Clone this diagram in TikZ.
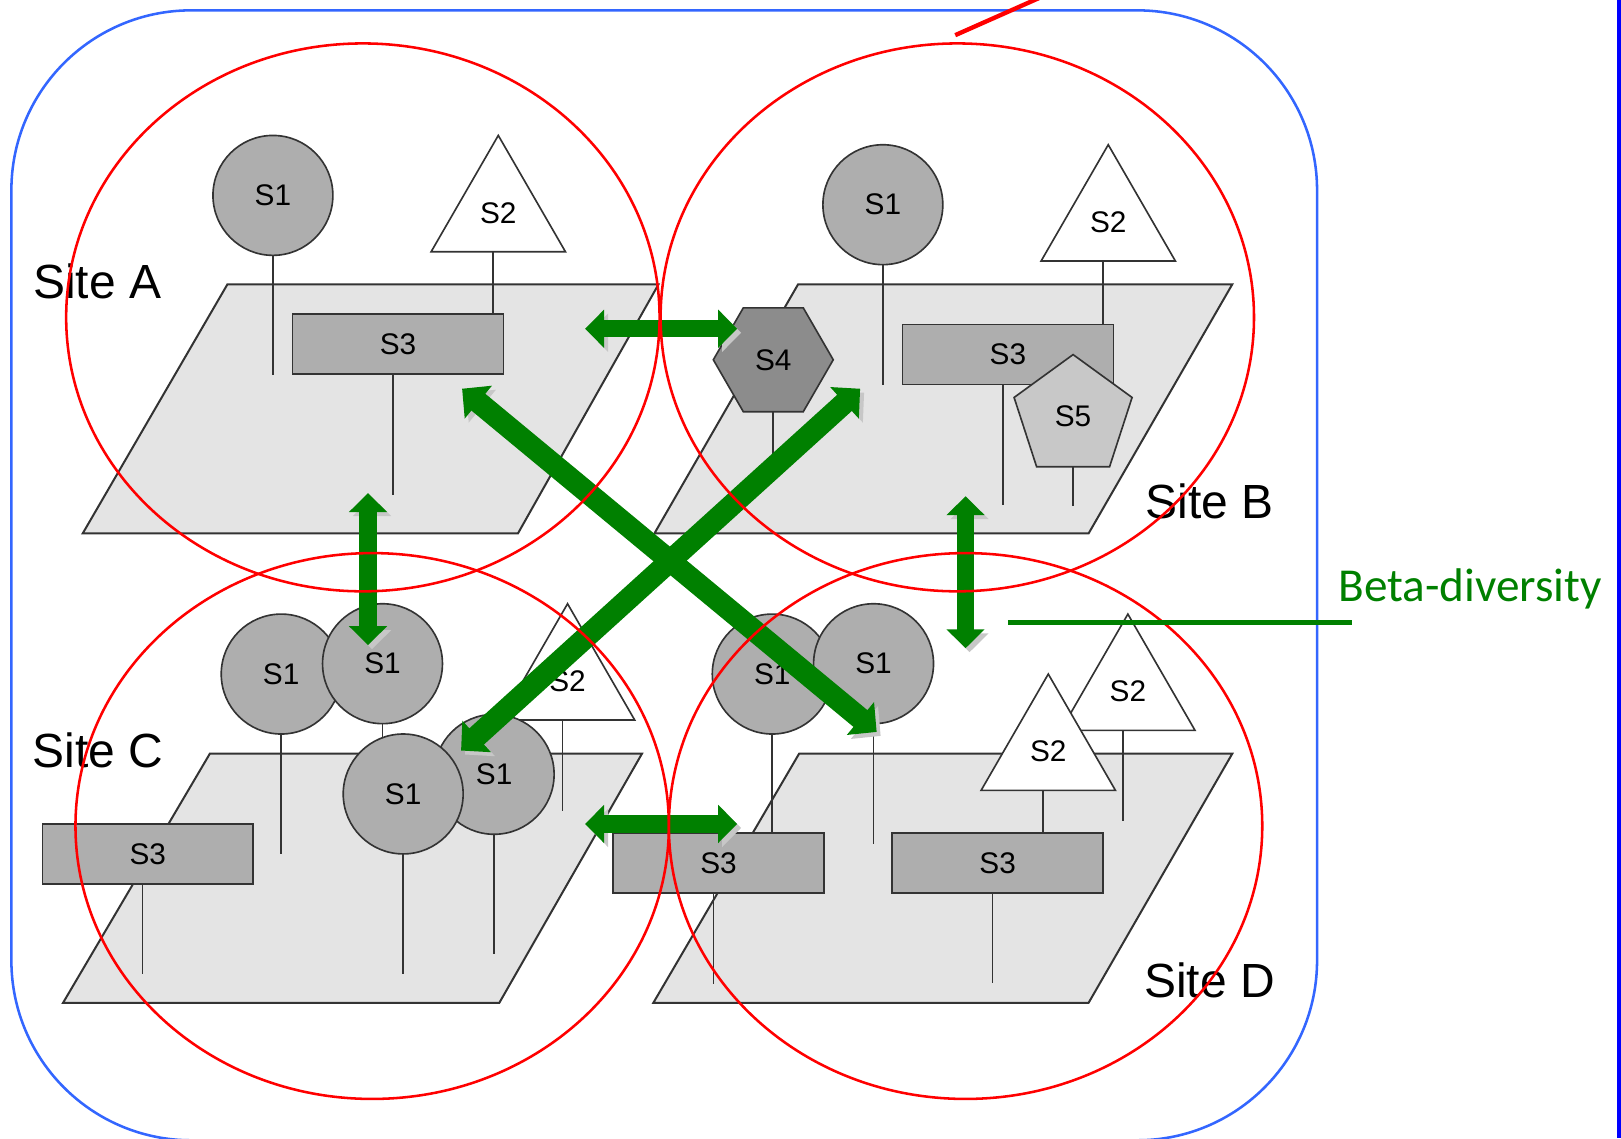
\documentclass[tikz,border=0pt]{standalone}
\usepackage{fontspec}
\setmainfont{Liberation Sans}
\newfontfamily\calibri{Carlito}
\usetikzlibrary{shapes.geometric,arrows.meta}

\definecolor{verde}{HTML}{008000}
\definecolor{blu}{HTML}{3366FF}
\definecolor{bordo}{HTML}{333333}
\definecolor{terreno}{HTML}{E4E4E4}
\definecolor{grigio}{HTML}{AEAEAE}
\definecolor{scuro}{HTML}{8C8C8C}
\definecolor{chiaro}{HTML}{C8C8C8}

\tikzset{
  specie/.style={draw=bordo, line width=0.45pt, inner sep=0pt, outer sep=0pt,
    font=\fontsize{8.2}{10}\selectfont},
  s1/.style={specie, circle, fill=grigio, minimum size=11.6mm},
  s2/.style={specie, regular polygon, regular polygon sides=3, fill=white, minimum size=15mm},
  s3/.style={specie, rectangle, fill=grigio, minimum width=20.4mm, minimum height=5.8mm},
  s4/.style={specie, regular polygon, regular polygon sides=6, fill=scuro, minimum size=11.6mm},
  s5/.style={specie, regular polygon, regular polygon sides=5, fill=chiaro, minimum size=12mm},
  gambo/.style={draw=bordo, line width=0.45pt},
  suolo/.style={draw=bordo, fill=terreno, line width=0.55pt},
  sito/.style={font=\fontsize{13.2}{16}\selectfont, inner sep=0pt},
  ombra/.style={preaction={draw=black!22, transform canvas={shift={(1.1pt,-1.1pt)}}}},
  freccia/.style={ombra, draw=verde, line width=4.8pt,
    {Triangle[width=10.2pt,length=5.2pt]}-{Triangle[width=10.2pt,length=5.2pt]}},
  diagonale/.style={ombra, draw=verde, line width=6pt,
    {Triangle[width=11.4pt,length=5.8pt]}-{Triangle[width=11.4pt,length=5.8pt]}},
  zona/.style={draw=red, line width=0.7pt}
}

\begin{document}
\begin{tikzpicture}[x=0.1mm, y=-0.1mm]
    \useasboundingbox (0,0) rectangle (1568,1101);

    % Cornice
    \draw[blu, line width=0.7pt, rounded corners=17.4mm] (11,10) rectangle (1274,1103);
    \draw[blue, line width=0.9pt] (1566,0) -- (1566,1101);

    % Sito A
    \draw[suolo] (220,275) -- (637,275) -- (501,516) -- (80,516) -- cycle;
    \node[s3] (a_s3) at (385,333) {S3};
    \draw[gambo] ([xshift=-0.5mm]a_s3.south) -- ++(0,117);
    \node[s1] (a_s1) at (264,189) {S1};
    \draw[gambo] (a_s1.south) -- ++(0,116);
    \node[s2] (a_s2) at (482,206) {S2};
    \draw[gambo] ([xshift=-0.5mm]a_s2.south) -- ([xshift=-0.5mm]a_s2.south |- a_s3.north);
    \node[sito] (sito_a) at (94,272) {Site A};

    % Sito B
    \draw[suolo] (772,275) -- (1192,275) -- (1053,516) -- (633,516) -- cycle;
    \node[s3] (b_s3) at (975,343) {S3};
    \draw[gambo] ([xshift=-0.5mm]b_s3.south) -- ++(0,116);
    \node[s1] (b_s1) at (854,198) {S1};
    \draw[gambo] (b_s1.south) -- ++(0,116);
    \node[s2] (b_s2) at (1072,215) {S2};
    \draw[gambo] ([xshift=-0.5mm]b_s2.south) -- ([xshift=-0.5mm]b_s2.south |- b_s3.north);
    \node[s4] (b_s4) at (748,348) {S4};
    \draw[gambo] (b_s4.south) -- ++(0,68);
    \node[s5] (b_s5) at (1038,403) {S5};
    \draw[gambo] (b_s5.south) -- ++(0,38);
    \node[sito] (sito_b) at (1170,485) {Site B};

    % Sito C
    \draw[suolo] (203,729) -- (621,729) -- (483,970) -- (61,970) -- cycle;
    \node[s3] (c_s3) at (143,826) {S3};
    \draw[gambo] ([xshift=-0.5mm]c_s3.south) -- ++(0,87);
    \node[s1] (c_s1a) at (272,652) {S1};
    \draw[gambo] (c_s1a.south) -- ++(0,116);
    \node[s1] (c_s1b) at (370,642) {S1};
    \draw[gambo] (c_s1b.south) -- ++(0,30);
    \node[s2] (c_s2) at (549,659) {S2};
    \draw[gambo] ([xshift=-0.5mm]c_s2.south) -- ++(0,88);
    \node[s1] (c_s1d) at (478,749) {S1};
    \draw[gambo] (c_s1d.south) -- ++(0,116);
    \node[s1] (c_s1c) at (390,768) {S1};
    \draw[gambo] (c_s1c.south) -- ++(0,116);
    \node[sito] (sito_c) at (95,726) {Site C};

    % Sito D
    \draw[suolo] (773,729) -- (1192,729) -- (1053,970) -- (632,970) -- cycle;
    \node[s3] (d_s3a) at (695,835) {S3};
    \draw[gambo] ([xshift=-0.5mm]d_s3a.south) -- ++(0,88);
    \node[s3] (d_s3b) at (965,835) {S3};
    \draw[gambo] ([xshift=-0.5mm]d_s3b.south) -- ++(0,87);
    \node[s1] (d_s1a) at (747,652) {S1};
    \draw[gambo] (d_s1a.south) -- (d_s1a.south |- d_s3a.north);
    \node[s1] (d_s1b) at (845,642) {S1};
    \draw[gambo] (d_s1b.south) -- ++(0,116);
    \node[s2] (d_s2a) at (1091,669) {S2};
    \draw[gambo] ([xshift=-0.5mm]d_s2a.south) -- ++(0,88);
    \node[s2] (d_s2b) at (1014,727) {S2};
    \draw[gambo] ([xshift=-0.5mm]d_s2b.south) -- ([xshift=-0.5mm]d_s2b.south |- d_s3b.north);
    \node[sito] (sito_d) at (1170,948) {Site D};

    % Frecce beta-diversita
    \coordinate (ab_sx) at (566,318);
    \coordinate (ab_dx) at (713,318);
    \coordinate (cd_sx) at (566,797);
    \coordinate (cd_dx) at (713,797);
    \coordinate (ac_su) at (356,477);
    \coordinate (ac_giu) at (356,624);
    \coordinate (bd_su) at (934,480);
    \coordinate (bd_giu) at (934,627);
    \coordinate (ad_a) at (447,376);
    \coordinate (ad_d) at (848,708);
    \coordinate (bc_b) at (832,376);
    \coordinate (bc_c) at (446,726);
    \draw[freccia] (ab_sx) -- (ab_dx);
    \draw[freccia] (cd_sx) -- (cd_dx);
    \draw[freccia] (ac_su) -- (ac_giu);
    \draw[freccia] (bd_su) -- (bd_giu);
    \draw[diagonale] (ad_a) -- (ad_d);
    \draw[diagonale] (bc_b) -- (bc_c);

    % Zone dei siti
    \draw[zona] (351,307) ellipse [x radius=28.7mm, y radius=26.5mm];
    \draw[zona] (926,307) ellipse [x radius=28.7mm, y radius=26.5mm];
    \draw[zona] (360,799) ellipse [x radius=28.7mm, y radius=26.4mm];
    \draw[zona] (934,799) ellipse [x radius=28.7mm, y radius=26.4mm];
    \draw[red, line width=1.2pt] (924,34) -- (1012,-5);

    % Etichetta
    \node[anchor=base west, inner sep=0pt, text=verde, font=\calibri\fontsize{13}{16}\selectfont]
        (beta) at (1294,582) {Beta-diversity};
    \coordinate (beta_inizio) at (975,602);
    \coordinate (beta_fine) at (1308,602);
    \draw[verde, line width=1.3pt] (beta_inizio) -- (beta_fine);

\end{tikzpicture}
\end{document}
